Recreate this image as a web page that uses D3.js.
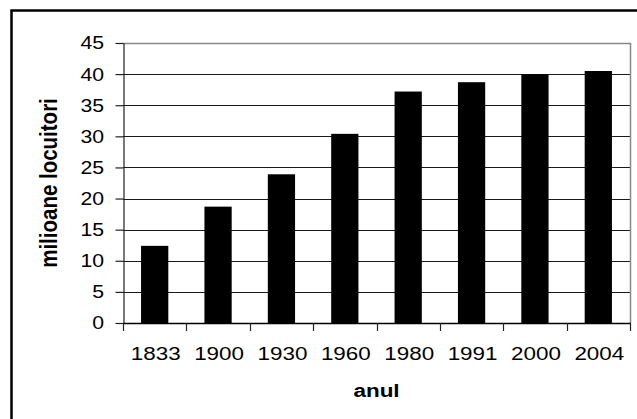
<!DOCTYPE html>
<html><head><meta charset="utf-8">
<script src="https://cdn.jsdelivr.net/npm/d3@7"></script>
<style>body{margin:0;background:#fff}svg{display:block}</style>
</head><body>
<svg id="c" width="637" height="419"></svg>
<script>
const years = ["1833","1900","1930","1960","1980","1991","2000","2004"];
const population = [12.4, 18.7, 23.9, 30.4, 37.2, 38.7, 40.0, 40.5];
const yTicks = [0,5,10,15,20,25,30,35,40,45];
const xTitle = "anul";
const yTitle = "milioane locuitori";

const svg = d3.select("#c");
const L = 123, R = 630, T = 43, B = 323;
const sx = 1.18;
const font = "'Liberation Sans', Arial, sans-serif";

svg.append("rect").attr("x",11.5).attr("y",10.5).attr("width",700).attr("height",500)
  .attr("fill","#fff").attr("stroke","#000").attr("stroke-width",2.5);

const x = d3.scaleBand().domain(years).range([L,R]).padding(0);
const y = d3.scaleLinear().domain([0,45]).range([B,T]);

// gridlines
svg.append("g").selectAll("line").data(yTicks.filter(v=>v>0 && v<45)).join("line")
  .attr("x1",L).attr("x2",R).attr("y1",d=>Math.round(y(d))+0.5).attr("y2",d=>Math.round(y(d))+0.5)
  .attr("stroke","#1a1a1a").attr("stroke-width",1);
// plot border top/right
svg.append("path").attr("d",`M${L},${T+0.5}H${R+0.5}V${B}`).attr("fill","none")
  .attr("stroke","#888").attr("stroke-width",1.5);

// bars
const bw = x.bandwidth()*0.43;
svg.append("g").selectAll("rect").data(years).join("rect")
  .attr("x",(d)=>x(d)+x.bandwidth()/2-bw/2)
  .attr("width",bw)
  .attr("y",(d,i)=>y(population[i]))
  .attr("height",(d,i)=>B-y(population[i]))
  .attr("fill","#000");

// y axis
const ya = svg.append("g").attr("transform",`translate(${L+0.5},0)`)
  .call(d3.axisLeft(y).tickValues(yTicks).tickSize(8).tickSizeOuter(0).tickFormat(""));
ya.selectAll("path,line").attr("stroke","#222").attr("stroke-width",1.2);
svg.append("g").selectAll("text").data(yTicks).join("text")
  .attr("transform",d=>`translate(104,${y(d)}) scale(${sx},1)`)
  .attr("dy","0.36em").attr("text-anchor","end")
  .attr("font-family",font).attr("font-size",18).text(d=>d);

// x axis
svg.append("line").attr("x1",L).attr("x2",R+1).attr("y1",B+0.5).attr("y2",B+0.5)
  .attr("stroke","#000").attr("stroke-width",1.5);
const bounds = years.map(d=>x(d)).concat([R]);
svg.append("g").selectAll("line").data(bounds).join("line")
  .attr("x1",d=>Math.round(d)+0.5).attr("x2",d=>Math.round(d)+0.5).attr("y1",B).attr("y2",B+8)
  .attr("stroke","#222").attr("stroke-width",1.2);
svg.append("g").selectAll("text").data(years).join("text")
  .attr("transform",d=>`translate(${x(d)+x.bandwidth()/2+1},360) scale(${sx},1)`)
  .attr("text-anchor","middle")
  .attr("font-family",font).attr("font-size",19).text(d=>d);

// titles
svg.append("text").attr("transform",`translate(${(L+R)/2},397) scale(1.25,1)`)
  .attr("text-anchor","middle").attr("font-family",font).attr("font-weight","bold")
  .attr("font-size",18).text(xTitle);
svg.append("text").attr("transform",`translate(57,${(T+B)/2}) scale(${sx},1) rotate(-90)`)
  .attr("text-anchor","middle").attr("font-family",font).attr("font-weight","bold")
  .attr("font-size",20.5).text(yTitle);
</script>
</body></html>
